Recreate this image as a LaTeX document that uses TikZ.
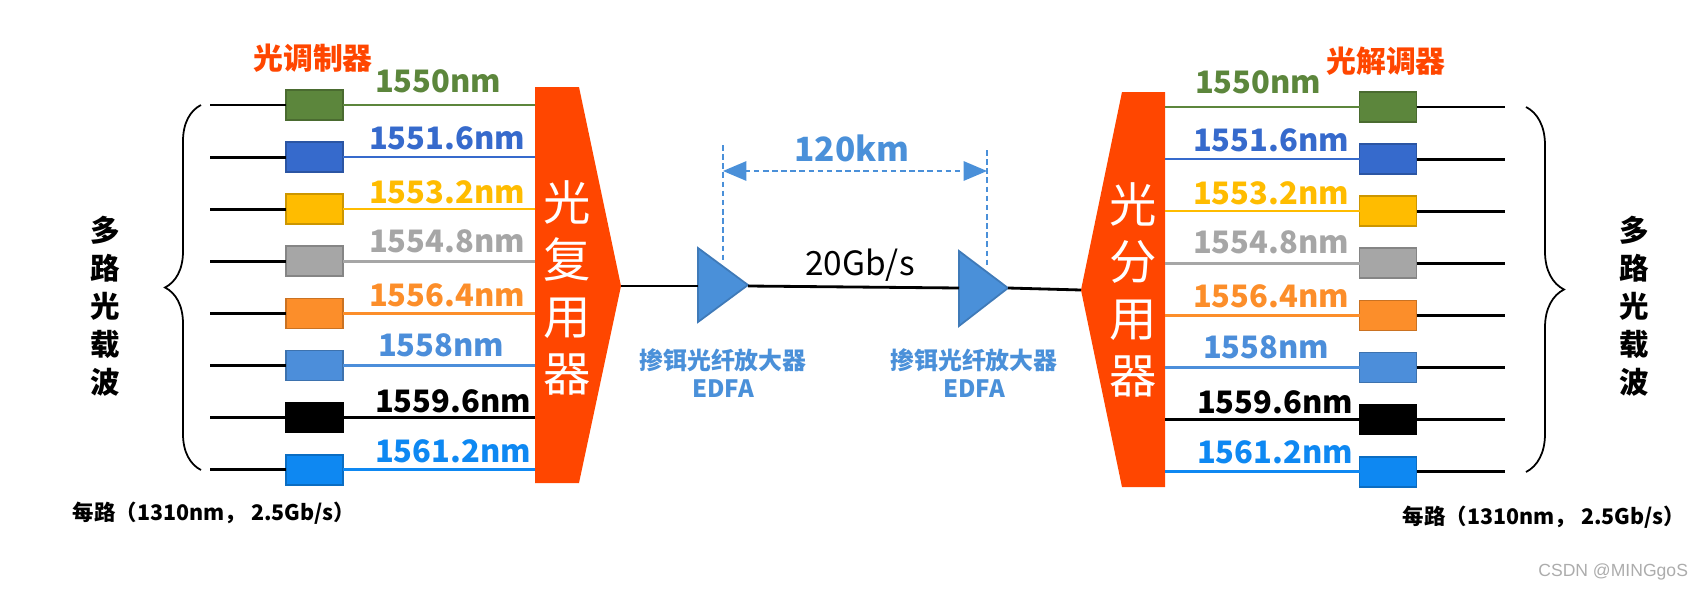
\documentclass[tikz,border=0pt]{standalone}
\usepackage{fontspec}
\setmainfont{Noto Sans CJK SC}
\newfontfamily\markfont{Liberation Sans}
\usetikzlibrary{arrows,decorations.pathreplacing}
\definecolor{muxorange}{RGB}{255,70,0}
\definecolor{edfablue}{RGB}{74,144,217}
\definecolor{wlgreen}{RGB}{92,134,60}
\definecolor{wlblue}{RGB}{54,106,204}
\definecolor{wlgold}{RGB}{255,188,0}
\definecolor{wlgray}{RGB}{166,166,166}
\definecolor{wlorange}{RGB}{252,142,42}
\definecolor{wlsky}{RGB}{76,142,218}
\definecolor{wlazure}{RGB}{14,136,242}
\newcommand{\carrierlabel}{多\\路\\光\\载\\波}
\newcommand{\muxlabel}[4]{#1\\#2\\#3\\#4}
\newcommand{\rowgap}{52.1}

\begin{document}
\begin{tikzpicture}[x = 0.1mm, y = -0.1mm, every node/.style = {inner sep = 0pt, outer sep = 0pt},
  modbox/.style = {rectangle, minimum width = 5.7mm, minimum height = 3mm, line width = 0.5pt},
  fibre/.style = {line width = 0.8pt},
  wllabel/.style = {font = \bfseries\fontsize{8.8}{10}\selectfont, anchor = base west},
  bigchar/.style = {font = \fontsize{13.5}{16.2}\selectfont, text = white, align = center},
  dimline/.style = {edfablue, line width = 0.5pt, dash pattern = on 1.6pt off 1pt}]
	\useasboundingbox (0, 0) rectangle (1703, 591);

	% multiplexer and demultiplexer
	\fill[muxorange] (535, 87) -- (579, 87) -- (621, 286) -- (579, 483) -- (535, 483) -- cycle;
	\fill[muxorange] (1165, 92) -- (1122, 92) -- (1081, 290) -- (1122, 487) -- (1165, 487) -- cycle;
	\node[bigchar] (mux) at (567, 288) {\muxlabel{光}{复}{用}{器}};
	\node[bigchar] (demux) at (1133, 290) {\muxlabel{光}{分}{用}{器}};
	\coordinate (muxout) at (621, 286);
	\coordinate (demuxin) at (1081, 290);

	% transmit side
	\foreach \i/\wavelength/\col/\lx/\ly in {1/1550nm/wlgreen/375/13, 2/1551.6nm/wlblue/369/8, 3/1553.2nm/wlgold/369/6, 4/1554.8nm/wlgray/369/9, 5/1556.4nm/wlorange/369/7, 6/1558nm/wlsky/378/9, 7/1559.6nm/black/375/5, 8/1561.2nm/wlazure/375/7} {
		\pgfmathsetmacro{\rowy}{105 + (\i - 1) * \rowgap}
		\coordinate (in\i) at (210, \rowy);
		\coordinate (mux\i) at (535, \rowy);
		\node[modbox, fill = \col, draw = \col!80!black] (mod\i) at (314.5, \rowy) {};
		\draw[fibre] (in\i) -- (mod\i);
		\draw[fibre, \col, line width = 0.7pt] (mod\i) -- (mux\i);
		\node[wllabel, text = \col] (wl\i) at (\lx, \rowy - \ly) {\wavelength};
	}

	% receive side
	\foreach \i/\wavelength/\col/\lx/\ly in {1/1550nm/wlgreen/1195/14, 2/1551.6nm/wlblue/1193/8, 3/1553.2nm/wlgold/1193/7, 4/1554.8nm/wlgray/1193/10, 5/1556.4nm/wlorange/1193/8, 6/1558nm/wlsky/1203/9, 7/1559.6nm/black/1197/6, 8/1561.2nm/wlazure/1197/8} {
		\pgfmathsetmacro{\rowy}{107 + (\i - 1) * \rowgap}
		\coordinate (demux\i) at (1165, \rowy);
		\coordinate (out\i) at (1505, \rowy);
		\node[modbox, fill = \col, draw = \col!80!black] (demod\i) at (1388, \rowy) {};
		\draw[fibre, \col, line width = 0.7pt] (demux\i) -- (demod\i);
		\draw[fibre] (demod\i) -- (out\i);
		\node[wllabel, text = \col] (rwl\i) at (\lx, \rowy - \ly) {\wavelength};
	}

	\node[font = \bfseries\fontsize{8.5}{10}\selectfont, text = muxorange] (modtitle) at (313, 58) {光调制器};
	\node[font = \bfseries\fontsize{8.5}{10}\selectfont, text = muxorange] (demodtitle) at (1386, 61) {光解调器};

	% carrier braces
	\draw[line width = 0.5pt, decorate, decoration = {brace, amplitude = 3.6mm}] (201, 470) -- (201, 105);
	\draw[line width = 0.5pt, decorate, decoration = {brace, amplitude = 3.8mm}] (1526, 107) -- (1526, 472);
	\node[font = \bfseries\fontsize{8.4}{10.8}\selectfont, align = center] (carrierL) at (105, 306) {\carrierlabel};
	\node[font = \bfseries\fontsize{8.4}{10.8}\selectfont, align = center] (carrierR) at (1634, 306) {\carrierlabel};
	\node[font = \bfseries\fontsize{6.1}{8}\selectfont] (rateL) at (214, 513) {每路（1310nm， 2.5Gb/s）};
	\node[font = \bfseries\fontsize{6.1}{8}\selectfont] (rateR) at (1544, 517) {每路（1310nm， 2.5Gb/s）};

	% amplifiers on the trunk
	\filldraw[fill = edfablue, draw = edfablue!85!black, line width = 0.5pt] (698, 248) -- (748, 285) -- (698, 322) -- cycle;
	\filldraw[fill = edfablue, draw = edfablue!85!black, line width = 0.5pt] (959, 251) -- (1008, 288) -- (959, 326) -- cycle;
	\coordinate (amp1in) at (698, 286);
	\coordinate (amp1out) at (748, 286);
	\coordinate (amp2in) at (959, 288);
	\coordinate (amp2out) at (1008, 288);
	\draw[fibre] (muxout) -- (amp1in);
	\draw[fibre] (amp1out) -- (amp2in);
	\draw[fibre] (amp2out) -- (demuxin);
	\node[font = \fontsize{9.5}{11}\selectfont] (rate) at (860, 265) {20Gb/s};
	\node[font = \bfseries\fontsize{6.8}{7.8}\selectfont, text = edfablue, align = center] (edfa1) at (723, 373) {掺铒光纤放大器\\EDFA};
	\node[font = \bfseries\fontsize{6.8}{7.8}\selectfont, text = edfablue, align = center] (edfa2) at (974, 373) {掺铒光纤放大器\\EDFA};

	% span
	\coordinate (span1top) at (723, 145);
	\coordinate (span1bot) at (723, 263);
	\coordinate (span2top) at (987, 150);
	\coordinate (span2bot) at (987, 267);
	\coordinate (dimL) at (723, 171);
	\coordinate (dimR) at (987, 171);
	\draw[dimline] (span1top) -- (span1bot);
	\draw[dimline] (span2top) -- (span2bot);
	\draw[dimline, triangle 45-triangle 45] (dimL) -- (dimR);
	\node[font = \bfseries\fontsize{9.5}{11}\selectfont, text = edfablue] (span) at (852, 148) {120km};

	\node[font = \markfont\fontsize{5}{6}\selectfont, text = gray!65, anchor = east] (mark) at (1688, 572) {CSDN @MINGgoS};
\end{tikzpicture}
\end{document}
